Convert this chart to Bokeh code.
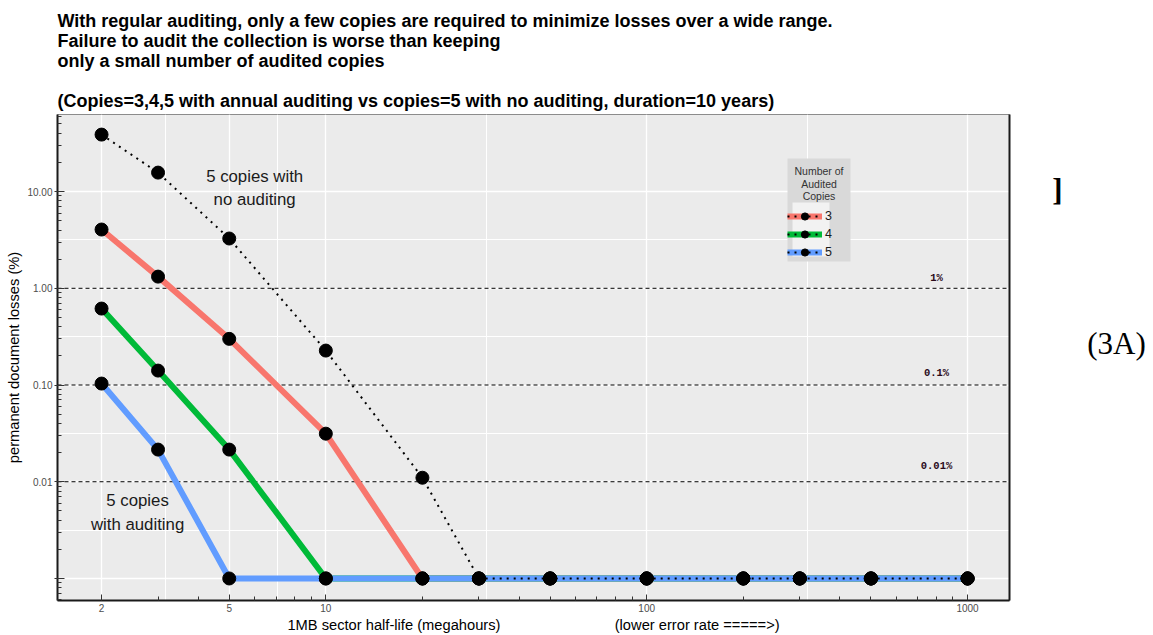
from bokeh.plotting import figure
from bokeh.layouts import column, row
from bokeh.models import (FixedTicker, Span, Label, Legend, LegendItem, Grid, LogAxis,
                          BoxAnnotation, CustomJSTickFormatter, Range1d)
from bokeh.embed import file_html
from bokeh.resources import INLINE
import numpy as np

# ---------------- data ----------------
half_life = [2, 3, 5, 10, 20, 30, 50, 100, 200, 300, 500, 1000]
no_audit_5 = [38.8, 15.7, 3.27, 0.227, 0.011, 0.001, 0.001, 0.001, 0.001, 0.001, 0.001, 0.001]
audit_3 = [4.05, 1.32, 0.30, 0.0314, 0.001, 0.001, 0.001, 0.001, 0.001, 0.001, 0.001, 0.001]
audit_4 = [0.617, 0.141, 0.0215, 0.001, 0.001, 0.001, 0.001, 0.001, 0.001, 0.001, 0.001, 0.001]
audit_5 = [0.1035, 0.0215, 0.001, 0.001, 0.001, 0.001, 0.001, 0.001, 0.001, 0.001, 0.001, 0.001]
series_labels = ["3", "4", "5"]
series_colors = ["#F8766D", "#00BA38", "#619CFF"]

x_major_ticks = [2, 5, 10, 100, 1000]
x_minor_ticks = [3, 4, 6, 7, 8, 9] + [m * 10 for m in range(2, 10)] + [m * 100 for m in range(2, 10)]
y_major_ticks = [0.001, 0.01, 0.1, 1, 10]
y_minor_ticks = [m * 10.0 ** e for e in range(-4, 2) for m in range(2, 10)]

ref_levels = [1, 0.1, 0.01]
ref_texts = ["1%", "0.1%", "0.01%"]
ref_text_y = [1.27, 0.133, 0.0146]
ref_text_x = 800

title_lines = [
    "With regular auditing, only a few copies are required to minimize losses over a wide range.",
    "Failure to audit the collection is worse than keeping",
    "only a small number of audited copies",
    "(Copies=3,4,5 with annual auditing vs copies=5 with no auditing, duration=10 years)",
]
legend_title_lines = ["Number of", "Audited", "Copies"]

FONT = "Liberation Sans"
W, H = 1153, 635
TOP_H = 113            # height of the title strip
FRAME_L, FRAME_R, FRAME_B = 57, 1009, 600
MAIN_W = FRAME_R + 3   # main figure width (3px right border for the right axis line)
MAIN_H = H - TOP_H

# ---------------- title strip (data units == canvas pixels) ----------------
top = figure(width=W, height=TOP_H, x_range=Range1d(0, W), y_range=Range1d(TOP_H, 0),
             output_backend="svg", toolbar_location=None, title=None,
             min_border=0, x_axis_type=None, y_axis_type=None)
top.outline_line_color = None
top.xgrid.visible = False
top.ygrid.visible = False
top.background_fill_color = "white"
top.border_fill_color = "white"
for t, Y in zip(title_lines, [20, 40.5, 60, 100]):
    top.add_layout(Label(x=FRAME_L, y=Y, text=t, text_font=FONT, text_font_style="bold",
                         text_font_size="18px", text_align="left", text_baseline="middle",
                         text_color="black"))

# ---------------- main plot ----------------
p = figure(width=MAIN_W, height=MAIN_H, x_axis_type="log", y_axis_type="log",
           x_range=(1.458, 1351), y_range=(0.000592, 62.6),
           output_backend="svg", toolbar_location=None, title=None,
           min_border_left=FRAME_L, min_border_right=3, min_border_top=1, min_border_bottom=H - FRAME_B)

p.background_fill_color = "#EBEBEB"
p.border_fill_color = "white"
p.outline_line_color = "#8c8c8c"
p.outline_line_width = 1

p.xaxis.ticker = FixedTicker(ticks=x_major_ticks, minor_ticks=x_minor_ticks)
p.yaxis.ticker = FixedTicker(ticks=y_major_ticks, minor_ticks=y_minor_ticks)
p.xaxis.formatter = CustomJSTickFormatter(code="return String(tick)")
p.yaxis.formatter = CustomJSTickFormatter(code="return tick < 0.005 ? '' : tick.toFixed(2)")
for ax in (p.xaxis[0], p.yaxis[0]):
    ax.axis_line_width = 2
    ax.axis_line_color = "#1a1a1a"
    ax.major_tick_line_color = "#333333"
    ax.minor_tick_line_color = "#333333"
    ax.major_label_text_font = FONT
    ax.major_label_text_font_size = "10px"
    ax.major_label_text_color = "#4D4D4D"
    ax.axis_label_text_font = FONT
    ax.axis_label_text_font_size = "14.7px"
    ax.axis_label_text_font_style = "normal"
    ax.axis_label_text_color = "black"
    ax.minor_tick_in = 4
    ax.minor_tick_out = 0
p.xaxis.major_tick_in = 6
p.xaxis.major_tick_out = 0
p.xaxis.major_label_standoff = 3
p.xaxis.axis_label_standoff = 2
p.yaxis.major_tick_in = 7
p.yaxis.major_tick_out = 3
p.yaxis.major_label_standoff = 2
p.yaxis.axis_label_standoff = 2
nb = "\u00a0"
p.xaxis.axis_label = "1MB sector half-life (megahours)" + nb * 28 + "(lower error rate =====>)"
p.yaxis.axis_label = "permanent document losses (%)"

right_axis = LogAxis(ticker=FixedTicker(ticks=[]), axis_line_width=2, axis_line_color="#1a1a1a",
                     major_tick_line_color=None, minor_tick_line_color=None,
                     major_tick_out=0, minor_tick_out=0, major_tick_in=0, minor_tick_in=0,
                     major_label_text_font_size="0px", major_label_standoff=0)
p.add_layout(right_axis, "right")

# grids (major + ggplot-style minor at the log midpoints)
p.xgrid.grid_line_color = "white"
p.ygrid.grid_line_color = "white"
p.xgrid.grid_line_width = 1.3
p.ygrid.grid_line_width = 1.3
x_mid = [float(np.sqrt(a * b)) for a, b in zip(x_major_ticks[:-1], x_major_ticks[1:])]
y_mid = [float(np.sqrt(a * b)) for a, b in zip(y_major_ticks[:-1], y_major_ticks[1:])]
p.add_layout(Grid(dimension=0, ticker=FixedTicker(ticks=x_mid), grid_line_color="white", grid_line_width=1.0))
p.add_layout(Grid(dimension=1, ticker=FixedTicker(ticks=y_mid), grid_line_color="white", grid_line_width=1.0))

for lv in ref_levels:
    p.add_layout(Span(location=lv, dimension="width", line_color="black", line_width=1,
                      line_dash="4 3", level="underlay"))

color_lines = []
for ys, c in zip([audit_3, audit_4, audit_5], series_colors):
    color_lines.append(p.line(half_life, ys, line_color=c, line_width=6))
dotted = p.line(half_life, no_audit_5, line_color="black", line_width=2, line_dash="2 5")
point_rs = []
for ys in [no_audit_5, audit_3, audit_4, audit_5]:
    point_rs.append(p.scatter(half_life, ys, size=13, fill_color="black", line_color="black"))

for t, yv in zip(ref_texts, ref_text_y):
    p.add_layout(Label(x=ref_text_x, y=yv, text=t, text_font="Liberation Mono", text_font_style="bold",
                       text_font_size="10.5px", text_color="#2a0a1a", text_align="center",
                       text_baseline="middle"))

for t, xv, yv in [("5 copies with", 6.0, 14.3), ("no auditing", 6.0, 8.27),
                  ("5 copies", 2.59, 0.0064), ("with auditing", 2.59, 0.00361)]:
    p.add_layout(Label(x=xv, y=yv, text=t, text_font=FONT, text_font_size="16.8px",
                       text_align="center", text_baseline="middle", text_color="#1a1a1a"))

# legend (frame-relative screen units)
def fx(X):
    return X - FRAME_L
def fy(Y):
    return FRAME_B - Y

p.add_layout(BoxAnnotation(left=fx(787), right=fx(850), top=fy(158), bottom=fy(261),
                           left_units="screen", right_units="screen", top_units="screen", bottom_units="screen",
                           fill_color="#D9D9D9", fill_alpha=1, line_color=None))
p.add_layout(BoxAnnotation(left=fx(792), right=fx(829), top=fy(202), bottom=fy(256),
                           left_units="screen", right_units="screen", top_units="screen", bottom_units="screen",
                           fill_color="#F2F2F2", fill_alpha=1, line_color=None))
for t, Y in zip(legend_title_lines, [170, 183, 195]):
    p.add_layout(Label(x=fx(818.5), y=fy(Y), x_units="screen", y_units="screen", text=t,
                       text_font=FONT, text_font_size="10.5px", text_align="center",
                       text_baseline="middle", text_color="#333333"))

items = [LegendItem(label=lab, renderers=[cl, dotted, point_rs[0]])
         for lab, cl in zip(series_labels, color_lines)]
legend = Legend(items=items, location=(fx(787), fy(261)), padding=5, spacing=0, margin=0,
                glyph_width=35, glyph_height=18, label_height=18, label_standoff=3,
                label_text_font=FONT, label_text_font_size="12.5px", label_text_color="#1a1a1a",
                background_fill_alpha=0, border_line_color=None)
p.add_layout(legend)

# ---------------- right strip with the "]" and "(3A)" marks ----------------
RIGHT_W = W - MAIN_W
side = figure(width=RIGHT_W, height=MAIN_H, x_range=Range1d(MAIN_W, W), y_range=Range1d(H, TOP_H),
              output_backend="svg", toolbar_location=None, title=None,
              min_border=0, x_axis_type=None, y_axis_type=None)
side.outline_line_color = None
side.xgrid.visible = False
side.ygrid.visible = False
side.background_fill_color = "white"
side.border_fill_color = "white"
side.add_layout(Label(x=1057, y=194, text="]", text_font="Liberation Serif", text_font_size="31px",
                      text_font_style="bold", text_align="center", text_baseline="middle",
                      text_color="black"))
side.add_layout(Label(x=1116, y=359, text="(3A)", text_font="Liberation Serif", text_font_size="31px",
                      text_align="center", text_baseline="middle", text_color="black"))

layout = column(top, row(p, side, spacing=0), spacing=0)
open("out.html", "w").write(file_html(layout, INLINE))
